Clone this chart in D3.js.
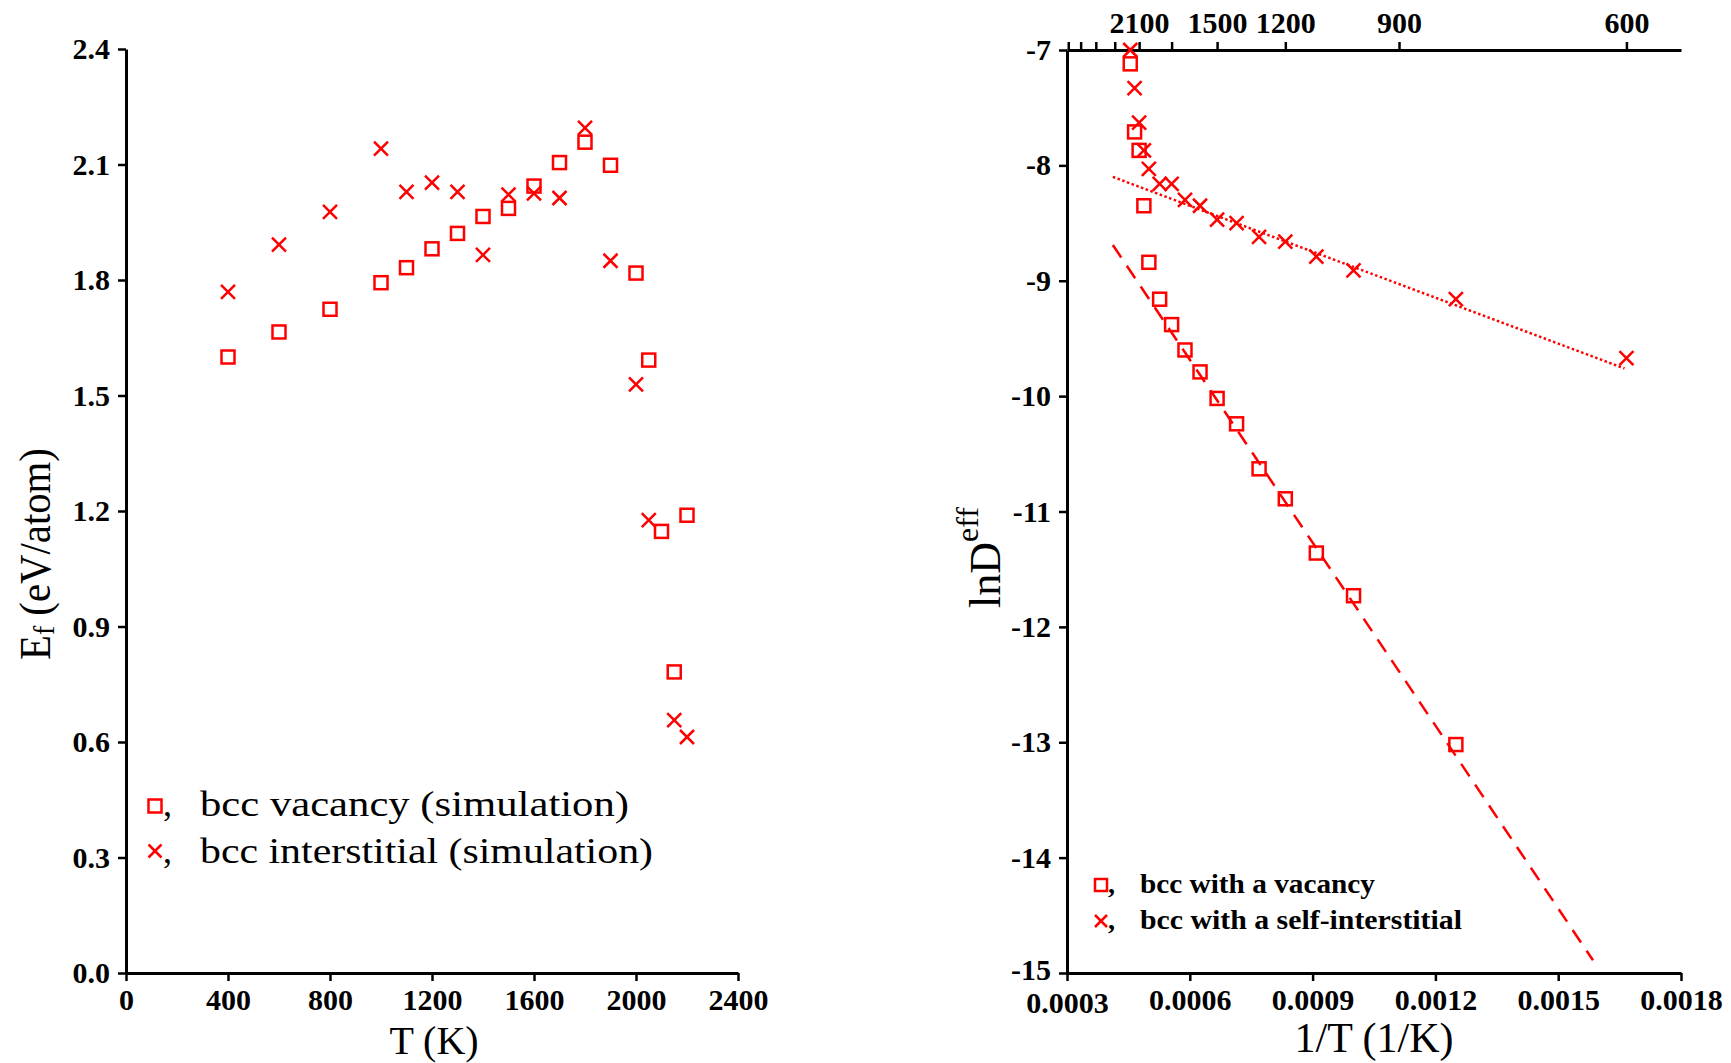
<!DOCTYPE html>
<html>
<head>
<meta charset="utf-8">
<script src="https://cdn.jsdelivr.net/npm/d3@7"></script>
<style>
  body { margin: 0; background: #fff; }
  svg { display: block; }
  text { font-family: "Liberation Serif", "Times New Roman", serif; }
</style>
</head>
<body>
<div id="chart"></div>
<script>
// left panel: formation energy vs T
const leftVacT = [400, 600, 800, 1000, 1100, 1200, 1300, 1400, 1500, 1600, 1700, 1800, 1900, 2000, 2050, 2100, 2150, 2200]
const leftVacE = [1.60, 1.665, 1.724, 1.793, 1.832, 1.881, 1.921, 1.965, 1.986, 2.044, 2.105, 2.158, 2.098, 1.818, 1.592, 1.147, 0.782, 1.189]
const leftIntT = [400, 600, 800, 1000, 1100, 1200, 1300, 1400, 1500, 1600, 1700, 1800, 1900, 2000, 2050, 2150, 2200]
const leftIntE = [1.769, 1.892, 1.977, 2.141, 2.029, 2.053, 2.029, 1.865, 2.022, 2.025, 2.013, 2.195, 1.850, 1.529, 1.176, 0.657, 0.613]
const leftXTicks = [0, 400, 800, 1200, 1600, 2000, 2400]
const leftYTicks = [0, 0.3, 0.6, 0.9, 1.2, 1.5, 1.8, 2.1, 2.4]

// right panel: lnD vs 1/T (stored as T)
const rightVacT = [2200, 2150, 2100, 2050, 2000, 1900, 1800, 1700, 1600, 1500, 1400, 1300, 1200, 1100, 1000, 800]
const rightVacLnD = [-7.12, -7.71, -7.87, -8.35, -8.84, -9.16, -9.38, -9.60, -9.79, -10.02, -10.24, -10.63, -10.89, -11.36, -11.73, -13.02]
const rightIntT = [2200, 2150, 2100, 2050, 2000, 1900, 1800, 1700, 1600, 1500, 1400, 1300, 1200, 1100, 1000, 800, 600]
const rightIntLnD = [-7.00, -7.33, -7.63, -7.87, -8.03, -8.16, -8.16, -8.30, -8.35, -8.47, -8.50, -8.62, -8.66, -8.79, -8.91, -9.16, -9.67]
// fitted lines (end points)
const fitIntX = [0.000412, 0.001662]
const fitIntY = [-8.10, -9.76]
const fitVacX = [0.000412, 0.001585]
const fitVacY = [-8.69, -14.89]
const rightXTicks = [0.0003, 0.0006, 0.0009, 0.0012, 0.0015, 0.0018]
const rightYTicks = [-7, -8, -9, -10, -11, -12, -13, -14, -15]
const topTicksT = [3300, 3000, 2700, 2400, 2100, 1800, 1500, 1200, 900, 600]
const topLabelsT = [2100, 1500, 1200, 900, 600]

const RED = '#ff0000'

const svg = d3.select('#chart')
  .append('svg')
  .attr('width', 1731)
  .attr('height', 1063)

const xL = d3.scaleLinear().domain([0, 2400]).range([126, 738])
const yL = d3.scaleLinear().domain([0, 2.4]).range([973, 49])
const xR = d3.scaleLinear().domain([0.0003, 0.0018]).range([1067, 1681])
const yR = d3.scaleLinear().domain([-15, -7]).range([973, 50])

function styleAxis(g) {
  g.select('.domain').attr('stroke-width', 3)
  g.selectAll('.tick line').attr('stroke-width', 2.5)
  g.selectAll('.tick text')
    .attr('font-size', '30px')
    .attr('font-weight', 'bold')
    .attr('font-family', '"Liberation Serif", "Times New Roman", serif')
    .attr('fill', '#000')
}

// axes - left
svg.append('g')
  .attr('transform', 'translate(0, 973)')
  .call(d3.axisBottom(xL).tickValues(leftXTicks).tickFormat(d => String(d)).tickSize(8).tickPadding(8).tickSizeOuter(0))
  .call(styleAxis)
svg.append('g')
  .attr('transform', 'translate(126, 0)')
  .call(d3.axisLeft(yL).tickValues(leftYTicks).tickFormat(d3.format('.1f')).tickSize(8).tickPadding(8).tickSizeOuter(0))
  .call(styleAxis)

// axes - right
const rxAxis = svg.append('g')
  .attr('transform', 'translate(0, 973)')
  .call(d3.axisBottom(xR).tickValues(rightXTicks).tickFormat(d => d.toFixed(4)).tickSize(8).tickPadding(8).tickSizeOuter(0))
  .call(styleAxis)
const ryAxis = svg.append('g')
  .attr('transform', 'translate(1067, 0)')
  .call(d3.axisLeft(yR).tickValues(rightYTicks).tickFormat(d => String(d)).tickSize(8).tickPadding(8).tickSizeOuter(0))
  .call(styleAxis)
// the corner labels sit very close, nudge them apart a little
rxAxis.selectAll('.tick text').filter(d => d === 0.0003).attr('y', 19)
ryAxis.selectAll('.tick text').filter(d => d === -15).attr('y', -3)

svg.append('g')
  .attr('transform', 'translate(0, 50)')
  .call(d3.axisTop(xR)
    .tickValues(topTicksT.map(t => 1 / t))
    .tickFormat(d => {
      const t = Math.round(1 / d)
      return topLabelsT.includes(t) ? t : ''
    })
    .tickSize(8).tickPadding(9).tickSizeOuter(0))
  .call(styleAxis)

// fit lines
const line = d3.line().x(d => xR(d[0])).y(d => yR(d[1]))
svg.append('path')
  .attr('d', line(fitIntX.map((x, i) => [x, fitIntY[i]])))
  .attr('fill', 'none')
  .attr('stroke', RED)
  .attr('stroke-width', 2.5)
  .attr('stroke-dasharray', '2.5 2.5')
svg.append('path')
  .attr('d', line(fitVacX.map((x, i) => [x, fitVacY[i]])))
  .attr('fill', 'none')
  .attr('stroke', RED)
  .attr('stroke-width', 2.5)
  .attr('stroke-dasharray', '15 10')

// markers
function squares(g, pts, s) {
  g.selectAll(null).data(pts).enter().append('rect')
    .attr('x', d => d[0] - s / 2)
    .attr('y', d => d[1] - s / 2)
    .attr('width', s)
    .attr('height', s)
    .attr('fill', 'none')
    .attr('stroke', RED)
    .attr('stroke-width', 2.5)
}
function crosses(g, pts, s) {
  const h = s / 2
  g.selectAll(null).data(pts).enter().append('path')
    .attr('d', d => `M${d[0] - h},${d[1] - h}L${d[0] + h},${d[1] + h}M${d[0] - h},${d[1] + h}L${d[0] + h},${d[1] - h}`)
    .attr('fill', 'none')
    .attr('stroke', RED)
    .attr('stroke-width', 2.5)
}

const marks = svg.append('g')
squares(marks, leftVacT.map((t, i) => [xL(t), yL(leftVacE[i])]), 13)
crosses(marks, leftIntT.map((t, i) => [xL(t), yL(leftIntE[i])]), 14)
squares(marks, rightVacT.map((t, i) => [xR(1 / t), yR(rightVacLnD[i])]), 13)
crosses(marks, rightIntT.map((t, i) => [xR(1 / t), yR(rightIntLnD[i])]), 14)

// legends
function legendText(x, y, str, size, weight, len) {
  const t = svg.append('text')
    .attr('x', x).attr('y', y)
    .attr('font-size', size + 'px')
    .attr('font-weight', weight)
    .text(str)
  if (len) t.attr('textLength', len).attr('lengthAdjust', 'spacingAndGlyphs')
  return t
}
squares(svg, [[155, 806]], 13)
crosses(svg, [[155, 851]], 13)
legendText(163, 816, ',', 36, 'normal')
legendText(163, 863, ',', 36, 'normal')
legendText(200, 816, 'bcc vacancy  (simulation)', 36, 'normal', 429)
legendText(200, 863, 'bcc interstitial (simulation)', 36, 'normal', 453)

squares(svg, [[1101, 885]], 12)
crosses(svg, [[1101, 921]], 12)
legendText(1108, 893, ',', 28, 'bold')
legendText(1108, 929, ',', 28, 'bold')
legendText(1140, 893, 'bcc with a vacancy', 28, 'bold', 235)
legendText(1140, 929, 'bcc with a self-interstitial', 28, 'bold', 322)

// axis titles
svg.append('text')
  .attr('x', 434).attr('y', 1054)
  .attr('text-anchor', 'middle')
  .attr('font-size', '40px')
  .text('T (K)')
svg.append('text')
  .attr('x', 1374).attr('y', 1052)
  .attr('text-anchor', 'middle')
  .attr('font-size', '42px')
  .text('1/T (1/K)')

const eLab = svg.append('text')
  .attr('transform', 'translate(50, 660) rotate(-90)')
  .attr('font-size', '44px')
eLab.append('tspan').text('E')
eLab.append('tspan').attr('font-size', '30px').attr('dy', 4).text('f')
eLab.append('tspan').attr('dy', -4).text(' (eV/atom)')
const eW = eLab.node().getComputedTextLength()
eLab.attr('transform', `translate(50, 660) rotate(-90) scale(${212 / eW}, 1)`)

const dLab = svg.append('text')
  .attr('transform', 'translate(1000, 608) rotate(-90)')
  .attr('font-size', '44px')
dLab.append('tspan').text('lnD')
dLab.append('tspan').attr('font-size', '32px').attr('dy', -22).text('eff')
</script>
</body>
</html>
